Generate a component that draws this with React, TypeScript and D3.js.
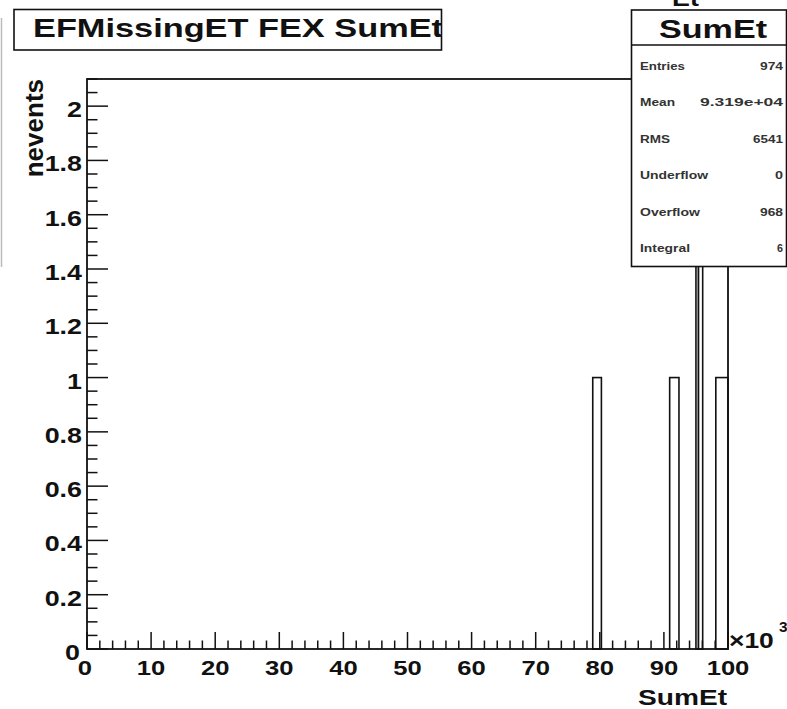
import React from "react";
import * as d3 from "d3";

const binLow = [78.9, 90.9, 95.0, 95.4, 98.1];
const binHigh = [80.25, 92.35, 95.4, 96.05, 100];
const counts = [1, 1, 2, 2, 1];

const xMajorTicks = [0, 10, 20, 30, 40, 50, 60, 70, 80, 90, 100];
const yMajorTicks = [0, 0.2, 0.4, 0.6, 0.8, 1, 1.2, 1.4, 1.6, 1.8, 2];

const statLabels = ["Entries", "Mean", "RMS", "Underflow", "Overflow", "Integral"];
const statValues = ["974", "9.319e+04", "6541", "0", "968", "6"];
const statLabelWidths = [45, 35, 30, 68, 60, 50];
const statValueWidths = [23, 83, 30, 8, 23, 6];

const W = 787;
const H = 709;
const FONT = "'Liberation Sans', Arial, Helvetica, sans-serif";

export default function App() {
  const x = d3.scaleLinear().domain([0, 100]).range([87, 728]);
  const y = d3.scaleLinear().domain([0, 2.1]).range([649, 79]);
  const xMinor = d3.range(0, 100.001, 2);
  const yMinor = d3.range(0, 2.1001, 0.05);
  const fmtY = (v: number) => String(+v.toFixed(2));
  const sx = 1.22;

  const bars = counts.map((c, i) => ({ x0: binLow[i], x1: binHigh[i], c }));

  return (
    <svg
      width={W}
      height={H}
      style={{ position: "absolute", left: 0, top: 0, background: "#fff" }}
      fontFamily={FONT}
    >
      <defs>
        <clipPath id="titleClip">
          <rect x={14} y={9.5} width={427.5} height={40.5} />
        </clipPath>
      </defs>
      <rect x={0} y={0} width={W} height={H} fill="#fff" />
      {/* left gray line */}
      <line x1={1.5} x2={1.5} y1={18} y2={267} stroke="#bbb" strokeWidth={1.5} />

      {/* top partial text */}
      <text
        transform={`translate(672,6) scale(${sx},1)`}
        fontSize={22}
        fontWeight="bold"
        fill="#111"
      >
        Et
      </text>

      {/* bars */}
      {bars.map((b, i) => (
        <rect
          key={i}
          x={x(b.x0)}
          y={y(b.c)}
          width={x(b.x1) - x(b.x0)}
          height={y(0) - y(b.c)}
          fill="#fff"
          stroke="#111"
          strokeWidth={1.6}
        />
      ))}

      {/* x ticks */}
      {xMinor.map((v, i) => {
        const major = Math.abs(v / 10 - Math.round(v / 10)) < 1e-6;
        return (
          <line
            key={"xt" + i}
            x1={x(v)}
            x2={x(v)}
            y1={649}
            y2={649 - (major ? 17 : 8.5)}
            stroke="#111"
            strokeWidth={1.5}
          />
        );
      })}
      {/* y ticks */}
      {yMinor.map((v, i) => {
        const major = Math.abs(v / 0.2 - Math.round(v / 0.2)) < 1e-6;
        return (
          <line
            key={"yt" + i}
            x1={87}
            x2={87 + (major ? 21 : 10.5)}
            y1={y(v)}
            y2={y(v)}
            stroke="#111"
            strokeWidth={1.5}
          />
        );
      })}

      {/* frame */}
      <rect
        x={87}
        y={79}
        width={728 - 87}
        height={649 - 79}
        fill="none"
        stroke="#111"
        strokeWidth={1.8}
      />

      {/* x tick labels */}
      {xMajorTicks.map((v) => (
        <text
          key={"xl" + v}
          transform={`translate(${x(v) - (v === 0 ? 2 : 0)},675) scale(${sx},1)`}
          textAnchor="middle"
          fontSize={21}
          fontWeight="bold"
          fill="#111"
        >
          {v}
        </text>
      ))}
      {/* y tick labels */}
      {yMajorTicks.map((v) => (
        <text
          key={"yl" + v}
          transform={`translate(${v === 0 ? 80 : 82},${y(v) + 11}) scale(${sx},1)`}
          textAnchor="end"
          fontSize={22}
          fontWeight="bold"
          fill="#111"
        >
          {fmtY(v)}
        </text>
      ))}

      {/* x10^3 */}
      <text
        transform={`translate(729,648) scale(1.2,1)`}
        fontSize={22}
        fontWeight="bold"
        fill="#111"
      >
        ×10
      </text>
      <text
        transform={`translate(779,632) scale(1.1,1)`}
        fontSize={14}
        fontWeight="bold"
        fill="#111"
      >
        3
      </text>

      {/* axis titles */}
      <text
        x={727}
        y={705}
        textAnchor="end"
        fontSize={22}
        fontWeight="bold"
        fill="#111"
        textLength={89}
        lengthAdjust="spacingAndGlyphs"
      >
        SumEt
      </text>
      <text
        transform="translate(43,79) rotate(-90)"
        textAnchor="end"
        fontSize={26}
        fontWeight="bold"
        fill="#111"
      >
        nevents
      </text>

      {/* title box */}
      <rect x={14} y={9.5} width={427.5} height={40.5} fill="#fff" stroke="#111" strokeWidth={1.6} />
      <g clipPath="url(#titleClip)">
        <text
          x={33}
          y={37}
          fontSize={26}
          fontWeight="bold"
          fill="#111"
          textLength={410}
          lengthAdjust="spacingAndGlyphs"
        >
          EFMissingET FEX SumEt
        </text>
      </g>

      {/* stats box */}
      <rect x={631.5} y={10} width={155} height={256.5} fill="#fff" stroke="#111" strokeWidth={1.6} />
      <line x1={631.5} x2={786.5} y1={45} y2={45} stroke="#111" strokeWidth={1.6} />
      <text
        x={659}
        y={38}
        fontSize={25}
        fontWeight="bold"
        fill="#111"
        textLength={108}
        lengthAdjust="spacingAndGlyphs"
      >
        SumEt
      </text>
      {statLabels.map((l, i) => {
        const by = 70 + i * 36.4;
        return (
          <g key={"st" + i}>
            <text
              x={640}
              y={by}
              fontSize={11.5}
              fontWeight="bold"
              fill="#333"
              textLength={statLabelWidths[i]}
              lengthAdjust="spacingAndGlyphs"
            >
              {l}
            </text>
            <text
              x={783 - statValueWidths[i]}
              y={by}
              fontSize={11.5}
              fontWeight="bold"
              fill="#333"
              textLength={statValueWidths[i]}
              lengthAdjust="spacingAndGlyphs"
            >
              {statValues[i]}
            </text>
          </g>
        );
      })}
    </svg>
  );
}
